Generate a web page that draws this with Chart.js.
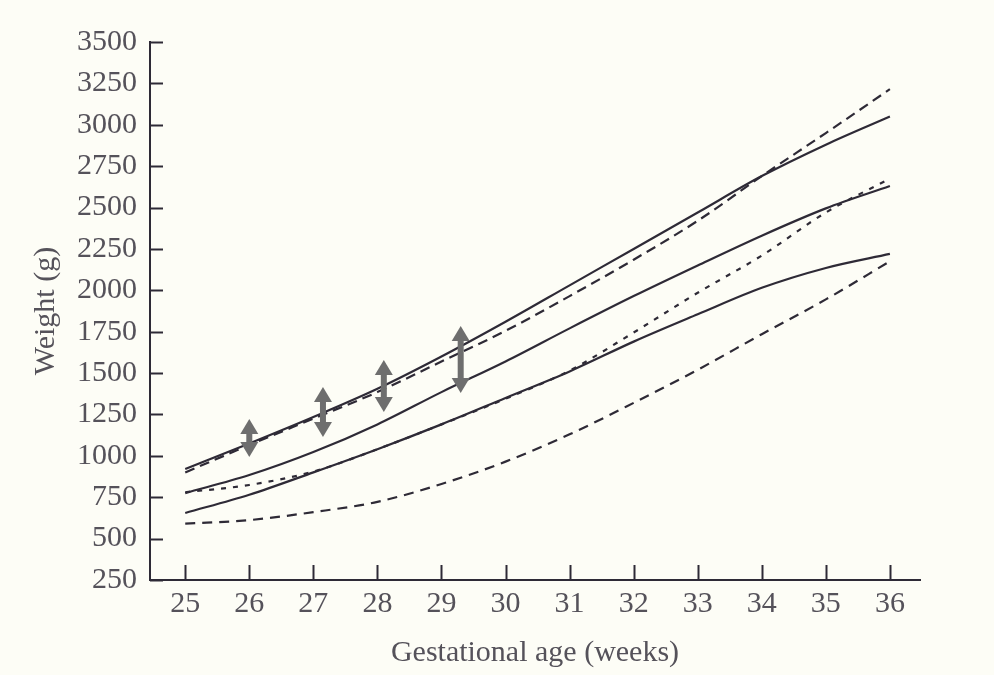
<!DOCTYPE html>
<html>
<head>
<meta charset="utf-8">
<title>Weight by gestational age</title>
<script src="https://cdn.jsdelivr.net/npm/chart.js@4.4.1/dist/chart.umd.min.js"></script>
<style>
  html, body { margin: 0; padding: 0; background: #fdfdf6; }
  #wrap { width: 994px; height: 675px; }
</style>
</head>
<body>
<div id="wrap"><canvas id="myChart" width="994" height="675"></canvas></div>
<script>
// data
const weeks = [25, 26, 27, 28, 29, 30, 31, 32, 33, 34, 35, 36];
const upperSolid  = [920, 1075, 1235, 1405, 1600, 1810, 2030, 2250, 2470, 2690, 2880, 3050];
const upperDashed = [900, 1065, 1225, 1385, 1570, 1755, 1965, 2185, 2420, 2690, 2950, 3215];
const middleSolid = [775, 884, 1023, 1190, 1385, 1570, 1770, 1965, 2150, 2330, 2495, 2630];
const middleDotted = [780, 824, 905, 1040, 1190, 1345, 1515, 1745, 1985, 2210, 2470, 2675];
const lowerSolid  = [655, 765, 900, 1040, 1190, 1350, 1510, 1690, 1855, 2015, 2135, 2220];
const lowerDashed = [590, 612, 660, 722, 830, 965, 1130, 1320, 1520, 1735, 1945, 2175];

// gray double arrows
const arrowWeek = [26.0, 27.15, 28.1, 29.3];
const arrowLow  = [993, 1114, 1265, 1379];
const arrowHigh = [1222, 1416, 1579, 1784];

const xTicks = [25, 26, 27, 28, 29, 30, 31, 32, 33, 34, 35, 36];
const yTicks = [250, 500, 750, 1000, 1250, 1500, 1750, 2000, 2250, 2500, 2750, 3000, 3250, 3500];

const ink = "#2e2a36";
const textGray = "#55525a";
const serif = "'Liberation Serif', 'Times New Roman', serif";

const toPoints = (values) => values.map((v, i) => ({ x: weeks[i], y: v }));

const makeLine = (label, values, dash) => ({
  label: label,
  data: toPoints(values),
  borderColor: ink,
  borderWidth: 2.2,
  borderDash: dash,
  pointRadius: 0,
  fill: false,
  cubicInterpolationMode: "monotone",
});

// tick marks point into the plot
const innerTicks = {
  id: "innerTicks",
  afterDraw(chart) {
    const { ctx, chartArea } = chart;
    const x = chart.scales.x;
    const y = chart.scales.y;
    ctx.save();
    ctx.strokeStyle = ink;
    ctx.lineWidth = 2;
    yTicks.forEach((v) => {
      const py = Math.round(y.getPixelForValue(v)) + 0.5;
      ctx.beginPath();
      ctx.moveTo(chartArea.left, py);
      ctx.lineTo(chartArea.left + 13, py);
      ctx.stroke();
    });
    xTicks.forEach((v) => {
      const px = Math.round(x.getPixelForValue(v)) + 0.5;
      ctx.beginPath();
      ctx.moveTo(px, chartArea.bottom);
      ctx.lineTo(px, chartArea.bottom - 15);
      ctx.stroke();
    });
    ctx.restore();
  },
};

const arrows = {
  id: "arrows",
  afterDatasetsDraw(chart) {
    const { ctx } = chart;
    const x = chart.scales.x;
    const y = chart.scales.y;
    ctx.save();
    ctx.fillStyle = "#6e6e6e";
    arrowWeek.forEach((w, i) => {
      const px = x.getPixelForValue(w);
      const top = y.getPixelForValue(arrowHigh[i]);
      const bottom = y.getPixelForValue(arrowLow[i]);
      const head = 15;
      const half = 9;
      ctx.fillRect(px - 3, top + head - 1, 6, bottom - top - 2 * head + 2);
      ctx.beginPath();
      ctx.moveTo(px, top);
      ctx.lineTo(px + half, top + head);
      ctx.lineTo(px - half, top + head);
      ctx.closePath();
      ctx.fill();
      ctx.beginPath();
      ctx.moveTo(px, bottom);
      ctx.lineTo(px + half, bottom - head);
      ctx.lineTo(px - half, bottom - head);
      ctx.closePath();
      ctx.fill();
    });
    ctx.restore();
  },
};

const canvas = document.getElementById("myChart");
new Chart(canvas, {
  type: "line",
  data: {
    datasets: [
      makeLine("upper solid", upperSolid, []),
      makeLine("upper dashed", upperDashed, [10, 6]),
      makeLine("middle solid", middleSolid, []),
      makeLine("middle short dashed", middleDotted, [5, 7]),
      makeLine("lower solid", lowerSolid, []),
      makeLine("lower dashed", lowerDashed, [10, 7]),
    ],
  },
  options: {
    responsive: false,
    animation: false,
    devicePixelRatio: 1,
    layout: { padding: { top: 42, right: 74, left: 0, bottom: 0 } },
    plugins: {
      legend: { display: false },
      tooltip: { enabled: false },
    },
    scales: {
      x: {
        type: "linear",
        min: 24.45,
        max: 36.47,
        afterBuildTicks: (scale) => {
          scale.ticks = xTicks.map((v) => ({ value: v }));
        },
        afterFit: (scale) => {
          scale.height = 95;
        },
        grid: { display: false, drawTicks: false },
        border: { display: true, color: ink, width: 2 },
        ticks: {
          padding: 6,
          color: textGray,
          font: { family: serif, size: 30 },
          callback: (v) => String(v),
        },
        title: {
          display: true,
          text: "Gestational age (weeks)",
          color: textGray,
          font: { family: serif, size: 30 },
          padding: { top: 0, bottom: 4 },
        },
      },
      y: {
        type: "linear",
        min: 250,
        max: 3500,
        afterBuildTicks: (scale) => {
          scale.ticks = yTicks.map((v) => ({ value: v }));
        },
        afterFit: (scale) => {
          scale.width = 150;
        },
        grid: { display: false, drawTicks: false },
        border: { display: true, color: ink, width: 2 },
        ticks: {
          padding: 13,
          color: textGray,
          font: { family: serif, size: 30 },
          callback: (v) => String(v),
        },
        title: {
          display: true,
          text: "Weight (g)",
          color: textGray,
          font: { family: serif, size: 30 },
          padding: { top: 28, bottom: 0 },
        },
      },
    },
  },
  plugins: [innerTicks, arrows],
});
</script>
</body>
</html>
